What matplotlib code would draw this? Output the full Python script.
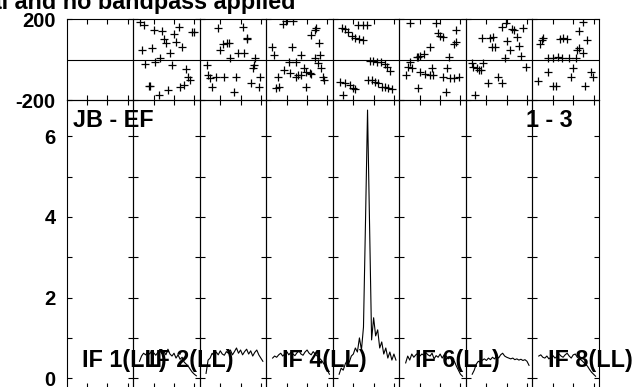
import matplotlib
matplotlib.use('Agg')
import matplotlib.pyplot as plt

plt.rcParams['font.family'] = ['Liberation Sans', 'DejaVu Sans']
plt.rcParams['font.weight'] = 'bold'
plt.rcParams['font.size'] = 14.5
plt.rcParams['axes.unicode_minus'] = False

# channels with amplitude data (same for every IF)
channels = list(range(3, 32))

# amplitude per IF (IF 1 has no data)
amp = {
    2: [0.42, 0.55, 0.62, 0.58, 0.65, 0.60, 0.68, 0.63, 0.57, 0.64, 0.70, 0.61, 0.66, 0.58, 0.72,
        0.60, 0.55, 0.62, 0.50, 0.58, 0.47, 0.52, 0.40, 0.35, 0.30, 0.22, 0.15, 0.10, 0.06],
    3: [0.12, 0.45, 0.50, 0.62, 0.55, 0.65, 0.58, 0.68, 0.60, 0.57, 0.66, 0.62, 0.70, 0.58, 0.66,
        0.75, 0.62, 0.70, 0.58, 0.66, 0.72, 0.60, 0.68, 0.55, 0.64, 0.70, 0.58, 0.50, 0.42],
    4: [0.50, 0.55, 0.52, 0.58, 0.62, 0.55, 0.60, 0.66, 0.58, 0.64, 0.60, 0.56, 0.63, 0.68, 0.60,
        0.57, 0.65, 0.70, 0.62, 0.58, 0.66, 0.60, 0.55, 0.50, 0.45, 0.38, 0.30, 0.20, 0.10],
    5: [0.10, 0.25, 0.20, 0.35, 0.45, 0.40, 0.55, 0.60, 0.75, 0.65, 1.00, 0.70, 1.27, 3.90, 6.65,
        3.80, 0.95, 1.50, 1.05, 1.20, 0.75, 0.90, 0.60, 0.75, 0.50, 0.65, 0.45, 0.60, 0.45],
    6: [0.38, 0.55, 0.45, 0.60, 0.52, 0.58, 0.62, 0.55, 0.60, 0.57, 0.63, 0.58, 0.55, 0.62, 0.48,
        0.56, 0.52, 0.60, 0.50, 0.58, 0.55, 0.48, 0.52, 0.40, 0.42, 0.30, 0.20, 0.10, 0.05],
    7: [0.10, 0.20, 0.35, 0.42, 0.40, 0.45, 0.48, 0.44, 0.50, 0.46, 0.52, 0.48, 0.55, 0.50, 0.58,
        0.62, 0.55, 0.52, 0.50, 0.48, 0.50, 0.46, 0.48, 0.45, 0.47, 0.44, 0.46, 0.42, 0.32],
    8: [0.55, 0.58, 0.52, 0.50, 0.55, 0.48, 0.52, 0.56, 0.50, 0.54, 0.60, 0.55, 0.52, 0.58, 0.62,
        0.55, 0.50, 0.58, 0.60, 0.52, 0.48, 0.45, 0.40, 0.35, 0.30, 0.22, 0.15, 0.10, 0.05],
}

# phase points (channel, degrees) per IF
ph_chan = {
    2: [3.1, 4.3, 5.1, 5.9, 7.5, 8.0, 9.2, 10.0, 10.8, 12.5, 13.0, 14.0, 15.0, 16.0, 16.9, 18.2,
        19.0, 19.8, 21.0, 22.3, 23.0, 24.0, 24.8, 26.0, 26.7, 27.7, 28.9, 30.0],
    3: [3.4, 3.8, 5.1, 5.9, 8.0, 8.7, 10.0, 11.3, 12.0, 13.3, 14.1, 14.9, 16.6, 17.9, 18.5, 21.1,
        21.5, 23.1, 23.4, 25.1, 26.1, 26.7, 27.2, 28.9, 29.7],
    4: [2.5, 3.6, 4.9, 5.7, 6.2, 8.2, 8.5, 9.5, 11.1, 11.5, 12.8, 13.1, 14.4, 14.4, 15.6, 17.2,
        17.2, 18.4, 19.7, 19.7, 21.3, 22.0, 22.0, 23.8, 23.8, 24.6, 25.4, 25.9, 26.6, 27.0, 27.9, 28.4],
    5: [4.3, 5.9, 7.5, 9.2, 10.8, 13.0, 14.9, 12.5, 14.9, 16.9, 18.2, 19.8, 21.5, 23.4, 25.6, 26.7,
        28.0, 3.4, 5.9, 8.4, 9.7, 10.8, 4.8, 17.4, 19.0, 20.7, 22.3, 23.9, 25.6, 27.2, 28.9],
    6: [5.2, 18.0, 18.7, 20.0, 21.3, 27.9, 27.9, 26.9, 14.8, 11.8, 8.5, 9.3, 10.2, 24.6, 4.9, 3.9,
        6.1, 3.3, 10.2, 12.6, 14.8, 16.7, 15.9, 21.3, 23.6, 24.9, 26.6, 29.5, 8.9, 23.0],
    7: [17.5, 19.7, 22.5, 23.6, 27.9, 7.7, 11.8, 13.4, 12.6, 14.3, 20.0, 24.9, 26.2, 21.6, 26.9, 19.2,
        2.8, 3.3, 5.2, 7.2, 8.5, 6.1, 15.9, 17.5, 11.0, 4.4, 29.5],
    8: [24.9, 23.0, 26.9, 5.2, 4.4, 3.6, 13.4, 15.1, 17.0, 23.0, 22.0, 7.7, 10.2, 12.6, 14.3, 18.0,
        21.6, 24.6, 2.8, 7.7, 10.2, 11.5, 20.0, 18.7, 25.7, 29.0, 29.8],
}
ph_deg = {
    2: [184, 47, 170, -24, -129, -129, 55, 146, -14, -175, 6, 141, 101, 80, -151, 30,
        -27, 126, 88, 162, -134, 63, -126, -47, -85, -101, 134, 134],
    3: [-27, -77, -90, -134, -85, 154, 47, 75, -85, 80, 83, 6, -159, -85, 30, 162,
        30, 105, 101, -118, -44, -27, 6, -134, -85],
    4: [63, 22, -142, -85, -134, 177, -52, 190, -10, -68, 60, 190, -10, -85, -77, 22,
        -77, -44, -60, -134, -68, 121, -73, 146, 6, 154, -19, 80, 22, -44, -85, -101],
    5: [157, 151, 137, 118, 108, 101, 96, 170, 170, 170, -7, -7, -11, -14, -24, -35,
        -57, -109, -118, -126, -139, -146, -175, -101, -101, -109, -118, -134, -134, -139, -146],
    6: [179, 179, 129, 118, 113, 146, 85, 75, 63, 26, 14, 14, 19, 14, -11, -35,
        -44, -77, -60, -73, -77, -77, -44, -85, -44, -90, -93, -86, -142, -159],
    7: [162, 179, 151, 146, 157, 108, 108, 113, 63, 63, 91, 113, 68, 47, 19, 6,
        -19, -35, -44, -52, -19, -52, -85, -118, -118, -175, -35],
    8: [184, 141, 96, 108, 96, 75, 101, 105, 101, 55, 47, 9, 9, 14, 9, 9,
        9, 30, -106, -60, -129, -129, -44, -85, -129, -63, -85],
}

if_labels = {1: 'IF 1(LL)', 2: 'IF 2(LL)', 4: 'IF 4(LL)', 6: 'IF 6(LL)', 8: 'IF 8(LL)'}
label_size = 16.8

fig, axes = plt.subplots(2, 8, figsize=(6.34, 3.87), dpi=100,
                         gridspec_kw={'height_ratios': [81, 287.5], 'wspace': 0, 'hspace': 0})
fig.subplots_adjust(left=0.1052, right=0.9448, top=0.9509, bottom=-0.0013)

for i in range(8):
    n_if = i + 1
    top = axes[0, i]
    bot = axes[1, i]
    for ax in (top, bot):
        ax.patch.set_visible(False)
        ax.set_xlim(-0.1, 32.7)
        ax.set_xticks([10, 20, 30])
        ax.tick_params(direction='in', length=3.6, width=0.8, top=True, bottom=True,
                       left=True, right=True, labelbottom=False, labelleft=False, pad=8)
        for sp in ax.spines.values():
            sp.set_linewidth(0.8)
    top.set_ylim(-200, 200)
    top.set_yticks([-200, 200])
    top.axhline(0, color='black', lw=0.8)
    bot.set_ylim(-0.23, 6.9)
    bot.set_yticks(range(7))
    bot.set_yticklabels(['0', '', '2', '', '4', '', '6'])
    if i == 0:
        top.tick_params(labelleft=True)
        bot.tick_params(labelleft=True)
    if n_if in amp:
        bot.plot(channels, amp[n_if], color='black', lw=0.8)
        top.plot(ph_chan[n_if], ph_deg[n_if], '+', color='black', ms=6, mew=0.9)
    if n_if in if_labels:
        bot.text(7.5, 0.29, if_labels[n_if], ha='left', va='baseline',
                 fontsize=label_size, fontweight='bold')

axes[1, 0].text(3.0, 6.24, 'JB - EF', ha='left', va='baseline',
                fontsize=label_size, fontweight='bold')
axes[1, 6].text(29.3, 6.24, '1 - 3', ha='left', va='baseline',
                fontsize=label_size, fontweight='bold', clip_on=False)

fig.text(295 / 634, 1 - 9 / 387, 'No cal and no bandpass applied', ha='right', va='baseline',
         fontsize=label_size, fontweight='bold')

fig.savefig('out.png', dpi=100, facecolor='white')
